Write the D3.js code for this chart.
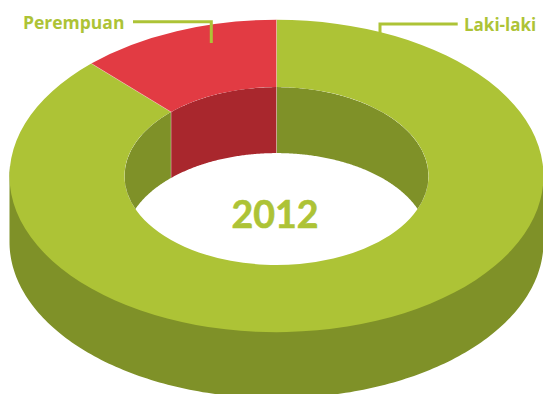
<!DOCTYPE html>
<html>
<head>
<meta charset="utf-8">
<script src="https://cdn.jsdelivr.net/npm/d3@7/dist/d3.min.js"></script>
<style>
  html, body { margin: 0; padding: 0; background: #fff; }
  svg { display: block; }
  text { fill: #adc336; font-weight: 700; }
</style>
</head>
<body>
<svg id="chart" width="543" height="394"></svg>
<script>
// Gender share for the year, drawn as an extruded doughnut
const categories = ["Laki-laki", "Perempuan"];
const shares = [87.8, 12.2];
const yearLabel = "2012";

const topColors = ["#adc336", "#e23b43"];
const wallColors = ["#7f9128", "#a9272d"];

const width = 543, height = 394;
const cx = 276.5, cy = 176;
const outerRadius = 267, innerRadius = 152;
const tilt = 0.585;      // vertical squash of the ring plane
const depth = 66;        // extrusion height of the ring
const rimLift = 13;      // how far the side wall peeks out above the widest point

const svg = d3.select("#chart");
const pie = d3.pie().sort(null).value(d => d)(shares);
const arc = d3.arc().innerRadius(innerRadius).outerRadius(outerRadius);

// Map a ring angle (0 at the top, clockwise) and radius onto the page
const px = (a, r) => cx + r * Math.sin(a);
const py = (a, r) => cy - r * tilt * Math.cos(a);

// Outer side wall: lower half of the rim swept down by the depth
const rimAngles = d3.range(90, 270.5, 1).map(d => d * Math.PI / 180);
svg.append("path")
  .attr("fill", wallColors[0])
  .attr("d", d3.area()
    .x(a => px(a, outerRadius))
    .y0(a => py(a, outerRadius) - rimLift)
    .y1(a => py(a, outerRadius) + depth)(rimAngles));

// Top face of the ring
svg.append("g")
  .attr("transform", `translate(${cx},${cy}) scale(1,${tilt})`)
  .selectAll("path")
  .data(pie)
  .join("path")
  .attr("fill", (d, i) => topColors[i])
  .attr("d", arc);

// Inner wall, seen through the hole
svg.append("clipPath").attr("id", "hole")
  .append("ellipse")
  .attr("cx", cx).attr("cy", cy)
  .attr("rx", innerRadius).attr("ry", innerRadius * tilt);

const wallArea = d3.area()
  .defined(a => Math.cos(a) > -0.06)
  .x(a => px(a, innerRadius))
  .y0(a => py(a, innerRadius))
  .y1(a => py(a, innerRadius) + depth);

svg.append("g")
  .attr("clip-path", "url(#hole)")
  .selectAll("path")
  .data(pie)
  .join("path")
  .attr("fill", (d, i) => wallColors[i])
  .attr("d", d => {
    const steps = d3.range(d.startAngle, d.endAngle, Math.PI / 360).concat(d.endAngle);
    return wallArea(steps);
  });

// Pale seams where the two slices meet
svg.append("g")
  .selectAll("path")
  .data(pie)
  .join("path")
  .attr("fill", "none")
  .attr("stroke", "#fff")
  .attr("stroke-opacity", 0.45)
  .attr("stroke-width", 0.7)
  .attr("d", d => d3.line()([
    [px(d.startAngle, outerRadius), py(d.startAngle, outerRadius)],
    [px(d.startAngle, innerRadius), py(d.startAngle, innerRadius)],
    [px(d.startAngle, innerRadius), py(d.startAngle, innerRadius) + depth]
  ]));

// Leader lines and labels
const leaders = [
  [[133, 21.7], [211.3, 21.7], [211.3, 43]],
  [[457.7, 24], [380, 24], [380, 33]]
];
svg.append("g")
  .selectAll("path")
  .data(leaders)
  .join("path")
  .attr("fill", "none")
  .attr("stroke", topColors[0])
  .attr("stroke-width", 3)
  .attr("d", d3.line());

svg.append("text")
  .attr("x", 23).attr("y", 29)
  .attr("font-family", "'Open Sans'")
  .attr("font-size", 17.5)
  .text(categories[1]);

svg.append("text")
  .attr("x", 464).attr("y", 31)
  .attr("font-family", "'Open Sans'")
  .attr("font-size", 17)
  .text(categories[0]);

svg.append("text")
  .attr("x", 275).attr("y", 227.5)
  .attr("text-anchor", "middle")
  .attr("font-family", "Lato")
  .attr("font-size", 37.5)
  .attr("stroke", topColors[0])
  .attr("stroke-width", 0.6)
  .text(yearLabel);
</script>
</body>
</html>
